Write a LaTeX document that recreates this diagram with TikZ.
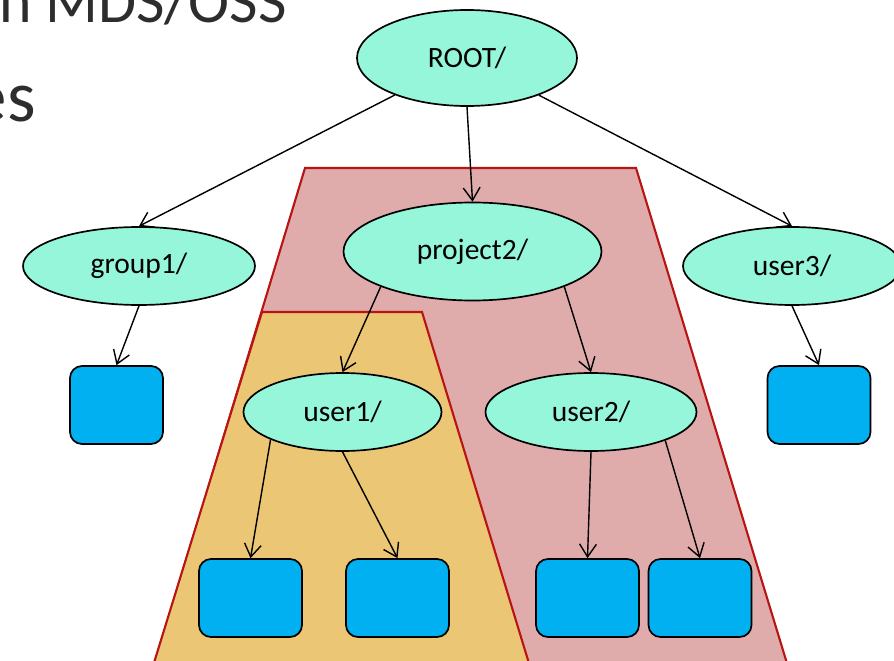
\documentclass[tikz,border=0pt]{standalone}
\usepackage{fontspec}
\setmainfont{Carlito}
\usetikzlibrary{shapes.geometric,arrows.meta}
\definecolor{mint}{RGB}{150,246,218}
\definecolor{objblue}{RGB}{0,176,240}
\definecolor{pinkfill}{RGB}{224,171,171}
\definecolor{goldfill}{RGB}{234,198,117}
\definecolor{darkred}{RGB}{185,20,20}
\definecolor{slidegray}{RGB}{45,45,45}

\begin{document}
\begin{tikzpicture}[
  folder/.style={ellipse, draw, line width=1.2pt, fill=mint, inner sep=0pt,
    font=\fontsize{21}{25}\selectfont},
  obj/.style={draw, line width=1.2pt, fill=objblue, rounded corners=0.3cm,
    minimum width=2.575cm, minimum height=1.95cm},
  link/.style={-{Straight Barb[length=0.32cm,width=0.42cm]}, line width=1pt},
  pool/.style={draw=darkred, line width=1.5pt}
]
\useasboundingbox (0,0) rectangle (22.35,16.5);
\clip (0,0) rectangle (22.35,16.5);

% bits of the slide text
\node[anchor=base east, inner sep=0pt, text=slidegray, font=\fontsize{44}{50}\selectfont] (title) at (7.175,15.925) {n MDS/OSS};
\node[anchor=base east, inner sep=0pt, text=slidegray, font=\fontsize{52}{60}\selectfont] (subtitle) at (0.9,13.45) {es};

% shaded regions
\draw[pool, fill=pinkfill] (7.625,12.3) -- (15.9,12.3) -- (19.71,-0.2) -- (3.84,-0.2) -- cycle;
\draw[pool, fill=goldfill] (6.55,8.7) -- (10.55,8.7) -- (13.26,-0.2) -- (3.81,-0.2) -- cycle;

% directories
\node[folder, minimum width=5.5cm, minimum height=2.4cm] (root) at (11.675,15.05) {ROOT/};
\node[folder, minimum width=5.8cm, minimum height=1.95cm] (group1) at (3.475,9.85) {group1/};
\node[folder, minimum width=6.45cm, minimum height=2.45cm] (project2) at (11.8125,10.2125) {project2/};
\node[folder, minimum width=5.45cm, minimum height=1.95cm] (user3) at (19.8,9.85) {user3/};
\node[folder, minimum width=4.95cm, minimum height=1.95cm] (user1) at (8.5625,6.2) {user1/};
\node[folder, minimum width=5.275cm, minimum height=1.95cm] (user2) at (14.775,6.2) {user2/};

% objects
\node[obj, minimum width=2.325cm] (g1obj) at (2.9125,6.375) {};
\node[obj] (u3obj) at (20.475,6.375) {};
\node[obj] (u1obja) at (6.2625,1.55) {};
\node[obj] (u1objb) at (9.9375,1.55) {};
\node[obj] (u2obja) at (14.6875,1.55) {};
\node[obj] (u2objb) at (17.5,1.55) {};

% links
\draw[link] (root) -- (group1.north);
\draw[link] (root.south) -- (project2.north);
\draw[link] (root) -- (user3.north);
\draw[link] (group1.south) -- (g1obj.north);
\draw[link] (project2.south west) -- (user1.north);
\draw[link] (project2.south east) -- (user2.north);
\draw[link] (user3.south) -- (u3obj.north);
\draw[link] (user1.201) -- (u1obja.north);
\draw[link] (user1.south) -- (u1objb.north);
\draw[link] (user2.south) -- (u2obja.north);
\draw[link] (user2.-21) -- (u2objb.north);
\end{tikzpicture}
\end{document}
